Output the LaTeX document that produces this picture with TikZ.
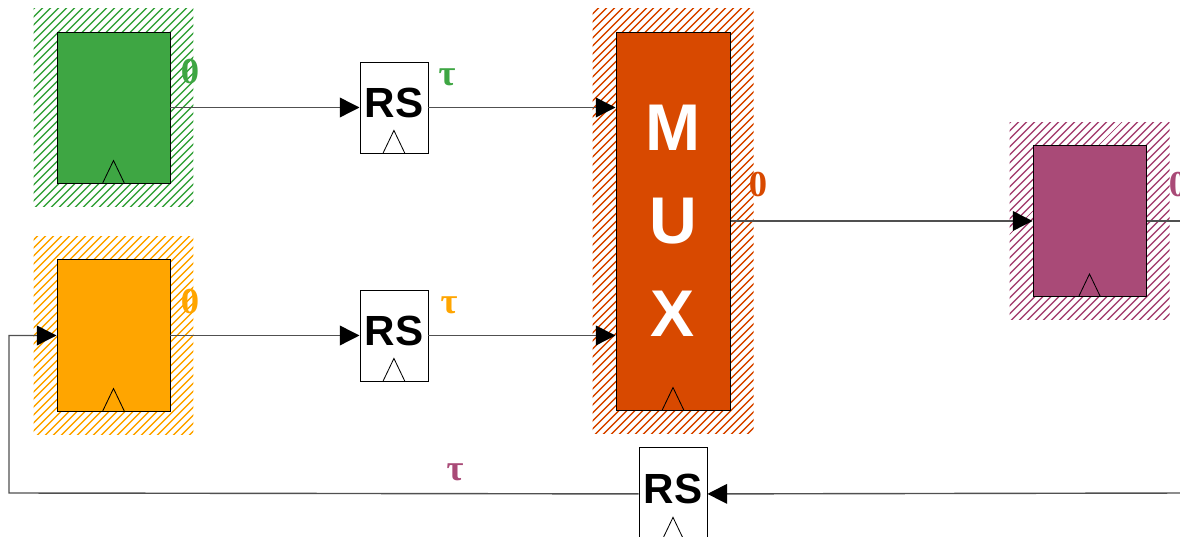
\documentclass[tikz,border=0pt]{standalone}
\usepackage{fontspec}
\setsansfont{Liberation Sans}
\newfontfamily\valfont{Liberation Serif}
\usetikzlibrary{calc, positioning, arrows.meta, fit, backgrounds, patterns.meta}
\definecolor{regGreen}{HTML}{3EA643}
\definecolor{regOrange}{HTML}{FFA500}
\definecolor{muxRed}{HTML}{D84900}
\definecolor{regPurple}{HTML}{A94A77}
\definecolor{wireGrey}{HTML}{505050}
\tikzset{
  reg/.style   = {draw=black, line width=0.7pt, inner sep=0pt,
                  minimum width=28.25mm, minimum height=37.75mm},
  rsbox/.style = {draw=black, fill=white, line width=0.6pt, inner sep=0pt,
                  minimum width=17mm, minimum height=22.75mm, text depth=2.4mm,
                  font=\sffamily\bfseries\fontsize{30}{30}\selectfont},
  hatch/.style = {draw=none, inner sep=5.75mm, pattern color=#1,
                  pattern={Lines[angle=45, distance=4pt, line width=1.1pt]}},
  wire/.style  = {draw=wireGrey, line width=1pt},
  fl/.style    = {wire, -{Triangle[length=14pt, width=14pt, color=black]}},
  val/.style   = {font=\valfont\bfseries\fontsize{26}{26}\selectfont, inner sep=0pt}
}
\newcommand{\clocktick}[1]{%
  \draw[line width=0.6pt] ($(#1.south)+(-2.75mm,0)$) -- ($(#1.south)+(0,5.75mm)$)
    -- ($(#1.south)+(2.75mm,0)$);}

\begin{document}
\begin{tikzpicture}[x=0.25mm, y=-0.25mm]
  \useasboundingbox (0,0) rectangle (1180,537);
  % registers
  \node[reg, fill=regGreen] (g) at (113.5,107.5) {};
  \node[reg, fill=regOrange, below=19mm of g] (o) {};
  \node[rsbox, right=47.25mm of g] (rs1) {RS};
  \node[rsbox, right=47.25mm of o] (rs2) {RS};
  \node[reg, fill=muxRed, minimum width=28.5mm, minimum height=94.5mm, align=center,
        text=white, font=\sffamily\bfseries\fontsize{47}{66}\selectfont] (mux) at (673,221) {M\\U\\X};
  \node[reg, fill=regPurple, right=75.5mm of mux] (p) {};
  \node[rsbox, below=9.25mm of mux, minimum height=23mm] (rs3) {RS};
  \begin{scope}[on background layer]
    \node[hatch=regGreen, fit=(g)] (gz) {};
    \node[hatch=regOrange, fit=(o)] (oz) {};
    \node[hatch=muxRed, fit=(mux)] (muxz) {};
    \node[hatch=regPurple, fit=(p)] (pz) {};
  \end{scope}
  \clocktick{g} \clocktick{o} \clocktick{mux} \clocktick{p}
  \clocktick{rs1} \clocktick{rs2} \clocktick{rs3}
  % values
  \node[val, text=regGreen] (g0) at (190,72) {0};
  \node[val, text=regOrange] (o0) at (190,302) {0};
  \node[val, text=muxRed] (mux0) at (758,185) {0};
  \node[val, text=regPurple] (p0) at (1178,185) {0};
  \node[val, text=regGreen] (t1) at (447,77) {τ};
  \node[val, text=regOrange] (t2) at (449,305) {τ};
  \node[val, text=regPurple] (t3) at (455,472) {τ};
  % wires
  \coordinate (pOut) at (1190,221);
  \coordinate (fbIn) at (1190,493);
  \coordinate (fbCorner) at (9,493);
  \draw[fl] (g.east) -- (rs1.west);
  \draw[fl] (o.east) -- (rs2.west);
  \draw[fl] (rs1.east) -- (rs1.east -| mux.west);
  \draw[fl] (rs2.east) -- (rs2.east -| mux.west);
  \draw[fl] (mux.east) -- (p.west);
  \draw[wire] (p.east) -- (pOut);
  \draw[fl] (fbIn) -- (rs3.east);
  \draw[fl] (rs3.west) -- (fbCorner) |- (o.west);
\end{tikzpicture}
\end{document}
